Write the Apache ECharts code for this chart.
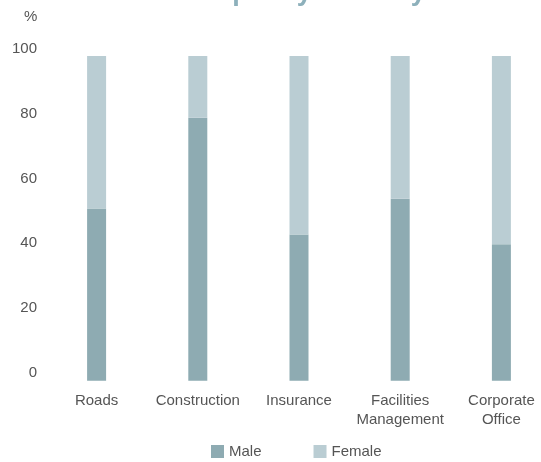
<!DOCTYPE html>
<html>
<head>
<meta charset="utf-8">
<script src="https://cdn.jsdelivr.net/npm/echarts@6/dist/echarts.min.js"></script>
<style>
html,body{margin:0;padding:0;background:#fff;}
#chart{width:541px;height:462px;}
</style>
</head>
<body>
<div id="chart"></div>
<script>
var categories = ['Roads', 'Construction', 'Insurance', 'Facilities\nManagement', 'Corporate\nOffice'];
var maleValues = [53, 81, 45, 56, 42];
var femaleValues = [47, 19, 55, 44, 58];
var yTicks = [0, 20, 40, 60, 80, 100];

var chart = echarts.init(document.getElementById('chart'));
var font = 'Liberation Sans, Arial, Helvetica, sans-serif';
chart.setOption({
  animation: false,
  textStyle: { fontFamily: font },
  title: [
    { text: 'Gender split by industry', left: 'center', top: -21, padding: 0,
      textStyle: { fontFamily: font, fontSize: 27, fontWeight: 'bold', color: '#8db0bb' } },
    { text: '%', left: 24, top: 9, padding: 0,
      textStyle: { fontFamily: font, fontSize: 15, fontWeight: 'normal', color: '#555555' } }
  ],
  legend: {
    left: 211, top: 444, itemWidth: 13, itemHeight: 13, itemGap: 52, padding: 0,
    icon: 'rect',
    textStyle: { fontFamily: font, fontSize: 15, color: '#555555' },
    data: ['Male', 'Female']
  },
  grid: { left: 46, top: 56, width: 506, height: 324.7, containLabel: false, outerBoundsMode: 'none' },
  xAxis: {
    type: 'category', data: categories,
    axisLine: { show: false }, axisTick: { show: false },
    axisLabel: { fontFamily: font, fontSize: 15, color: '#555555', margin: 11, lineHeight: 19, interval: 0 }
  },
  yAxis: {
    type: 'value', min: yTicks[0], max: yTicks[yTicks.length - 1], interval: 20,
    axisLine: { show: false }, axisTick: { show: false }, splitLine: { show: false },
    axisLabel: { fontFamily: font, fontSize: 15, color: '#555555', margin: 9, verticalAlign: 'bottom' }
  },
  series: [
    { name: 'Male', type: 'bar', stack: 'g', barWidth: 19, data: maleValues, itemStyle: { color: '#8eabb2' } },
    { name: 'Female', type: 'bar', stack: 'g', barWidth: 19, data: femaleValues, itemStyle: { color: '#bacdd3' } }
  ]
});
</script>
</body>
</html>
